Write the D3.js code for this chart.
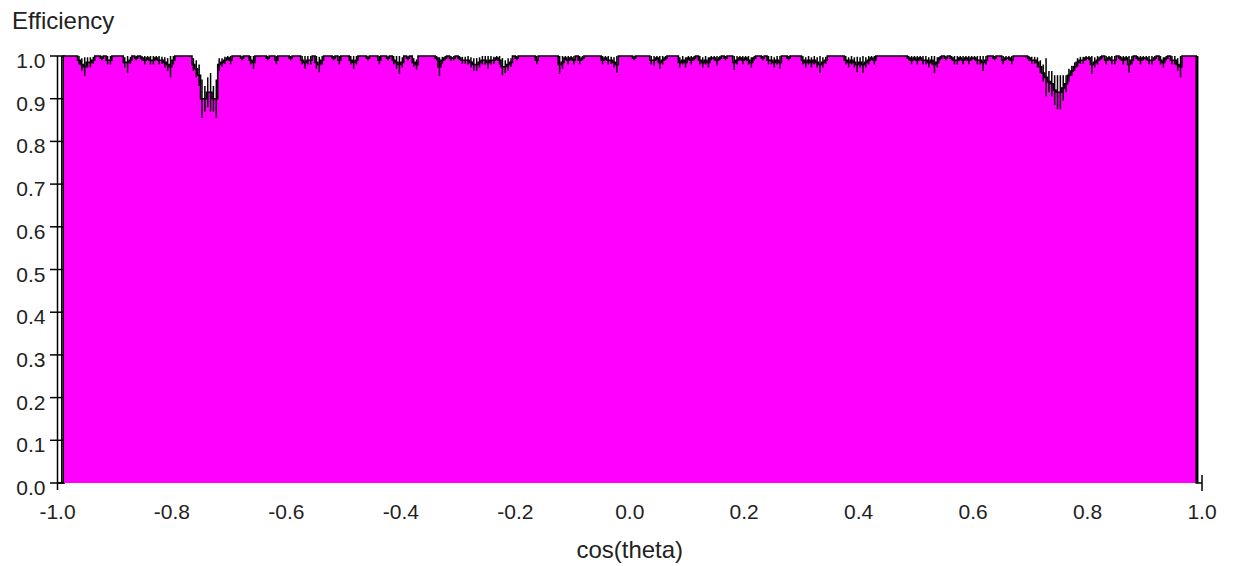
<!DOCTYPE html>
<html>
<head>
  <meta charset="utf-8">
  <title>Efficiency vs cos(theta)</title>
  <script src="https://d3js.org/d3.v7.min.js"></script>
  <style>
    body { margin: 0; background: #fff; }
    text { font-family: "Liberation Sans", Arial, Helvetica, sans-serif; fill: #222; }
  </style>
</head>
<body>
<script type="text/javascript">

// ****** DATA ******

  // efficiency per bin, 400 bins from -1 to 1 (20 bins per line = 0.1 in cos(theta))
  var effValues = [
    0,0,1,1,1,1,1,0.99,0.98,0.975,0.985,0.985,0.99,1,1,0.995,1,0.99,0.99,1,
    1,1,1,0.985,0.985,0.99,1,0.995,1,0.995,0.99,0.995,0.99,0.99,0.995,0.99,0.99,0.985,0.98,0.975,
    0.99,1,1,1,1,1,1,0.98,0.97,0.955,0.90,0.90,0.915,0.915,0.90,0.90,0.98,0.985,0.99,0.995,
    0.99,1,1,1,0.995,1,1,0.99,0.985,1,1,1,1,0.995,1,1,0.99,1,1,1,
    1,0.995,1,1,1,0.99,0.985,0.99,0.99,1,0.985,0.98,0.99,1,1,1,0.995,1,0.99,1,
    1,1,0.99,0.985,0.99,1,1,1,0.995,1,1,1,0.99,1,1,0.995,1,0.99,0.985,0.98,
    0.985,1,0.995,1,0.985,0.98,1,1,1,1,1,1,0.995,0.975,0.99,0.995,1,0.995,0.995,1,
    0.995,0.99,0.99,0.99,0.985,0.98,0.98,0.985,0.99,0.99,0.985,0.99,0.99,0.995,0.99,0.975,0.975,0.98,0.985,1,
    0.995,1,1,1,1,1,1,0.99,1,1,1,1,1,1,1,0.98,0.985,0.995,0.99,0.995,
    0.99,1,0.99,0.995,1,1,1,1,1,1,0.99,0.995,0.99,0.99,0.985,0.98,1,1,1,1,
    1,0.995,1,1,1,1,1,0.99,0.99,0.995,0.985,0.99,0.995,1,1,1,1,0.985,0.99,0.985,
    0.995,0.99,0.995,1,0.99,0.985,0.99,0.985,0.995,0.995,0.99,0.995,1,0.995,1,1,0.985,0.99,0.995,0.99,
    0.995,0.99,0.985,0.995,1,1,0.995,1,0.99,0.99,0.985,0.99,0.985,1,1,0.995,1,1,1,1,
    0.99,0.985,0.99,0.985,0.99,0.985,0.98,0.985,0.99,1,1,1,1,1,1,0.99,0.985,0.99,0.985,0.98,
    0.985,0.98,0.985,0.99,0.995,0.99,1,1,1,1,1,1,1,1,1,1,1,0.995,0.99,0.995,
    0.99,0.995,0.99,0.99,0.985,0.99,0.98,0.985,0.995,1,0.995,1,0.995,0.99,0.99,0.995,0.99,0.995,0.99,0.995,
    0.995,0.99,0.99,0.985,0.99,1,1,0.995,1,1,0.99,0.995,0.995,0.99,1,1,1,1,1,0.995,
    0.99,0.99,0.985,0.975,0.96,0.95,0.94,0.935,0.92,0.915,0.915,0.925,0.935,0.955,0.965,0.975,0.985,0.99,0.99,0.995,
    0.995,0.98,0.985,0.99,0.995,1,0.99,0.995,0.99,0.99,1,0.995,0.99,0.995,0.98,0.99,1,0.995,0.99,0.995,
    0.995,0.99,0.99,0.995,1,0.99,0.985,0.995,1,0.99,0.99,0.98,0.975,1,1,1,1,1,0,0
  ];

  // error on each bin
  var effErrors = [
    0,1,0,0,0,0,0,0.01,0.015,0.022,0.012,0.012,0.008,0,0,0.005,0,0.01,0.01,0,
    0,0,0,0.012,0.025,0.008,0,0.005,0,0.005,0.01,0.005,0.01,0.01,0.005,0.01,0.008,0.012,0.015,0.025,
    0.01,0,0,0,0,0,0,0.015,0.02,0.025,0.045,0.03,0.035,0.045,0.03,0.045,0.015,0.01,0.008,0.005,
    0.01,0,0,0,0.005,0,0,0.01,0.015,0,0,0,0,0.005,0,0,0.01,0,0,0,
    0,0.005,0,0,0,0.01,0.015,0.01,0.01,0,0.015,0.018,0.01,0,0,0,0.005,0,0.01,0,
    0,0,0.01,0.015,0.01,0,0,0,0.005,0,0,0,0.01,0,0,0.005,0,0.01,0.015,0.022,
    0.012,0,0.005,0,0.01,0.012,0,0,0,0,0,0,0.005,0.022,0.008,0.005,0,0.006,0.005,0,
    0.005,0.008,0.008,0.01,0.012,0.015,0.015,0.012,0.01,0.01,0.015,0.01,0.008,0.005,0.01,0.02,0.015,0.015,0.01,0,
    0.005,0,0,0,0,0,0,0.01,0,0,0,0,0,0,0,0.022,0.015,0.005,0.01,0.005,
    0.01,0,0.01,0.005,0,0,0,0,0,0,0.01,0.005,0.01,0.008,0.012,0.02,0,0,0,0,
    0,0.005,0,0,0,0,0,0.01,0.012,0.005,0.015,0.01,0.005,0,0,0,0,0.012,0.01,0.012,
    0.005,0.01,0.005,0,0.01,0.012,0.01,0.012,0.005,0.005,0.012,0.005,0,0.005,0,0,0.018,0.01,0.005,0.01,
    0.005,0.01,0.012,0.005,0,0,0.005,0,0.01,0.01,0.012,0.01,0.015,0,0,0.005,0,0,0,0,
    0.01,0.012,0.01,0.012,0.01,0.012,0.02,0.012,0.008,0,0,0,0,0,0,0.01,0.012,0.01,0.012,0.018,
    0.012,0.02,0.012,0.01,0.005,0.01,0,0,0,0,0,0,0,0,0,0,0,0.005,0.01,0.005,
    0.01,0.005,0.01,0.01,0.012,0.01,0.02,0.012,0.005,0,0.005,0,0.005,0.01,0.01,0.005,0.01,0.005,0.01,0.005,
    0.005,0.01,0.01,0.02,0.01,0,0,0.005,0,0,0.01,0.005,0.005,0.01,0,0,0,0,0,0.006,
    0.008,0.008,0.012,0.015,0.02,0.045,0.025,0.03,0.035,0.04,0.04,0.03,0.02,0.015,0.012,0.01,0.01,0.008,0.008,0.005,
    0.005,0.022,0.012,0.01,0.005,0,0.01,0.005,0.01,0.01,0,0.005,0.01,0.005,0.02,0.01,0,0.005,0.01,0.005,
    0.005,0.01,0.01,0.005,0,0.01,0.012,0.005,0,0.01,0.01,0.015,0.025,0,0,0,0,0,1,0
  ];

  var xTicks = [-1.0, -0.8, -0.6, -0.4, -0.2, 0.0, 0.2, 0.4, 0.6, 0.8, 1.0];
  var yTicks = [0.0, 0.1, 0.2, 0.3, 0.4, 0.5, 0.6, 0.7, 0.8, 0.9, 1.0];
  var xTitle = "cos(theta)",
      yTitle = "Efficiency";

// ****** SETUP ******

  var width = 1239,
      height = 566;
  var plotLeft = 57.5, plotRight = 1202, plotTop = 56, plotBottom = 483;
  var nBins = effValues.length,
      xMin = -1, xMax = 1;

  var x = d3.scaleLinear().domain([xMin, xMax]).range([plotLeft, plotRight]);
  var y = d3.scaleLinear().domain([0, 1]).range([plotBottom, plotTop]);

  // plain hyphen for negative labels, like the original
  var fmt = function (d) { return d3.format(".1f")(d).replace("\u2212", "-"); };

  var svg = d3.select("body")
    .append("svg")
    .attr("width", width)
    .attr("height", height);

  function binLow(i) { return xMin + i * (xMax - xMin) / nBins; }
  function binHigh(i) { return xMin + (i + 1) * (xMax - xMin) / nBins; }

// ****** AXES (ticks first, histogram covers the inner halves) ******

  svg.append("g")
    .selectAll("line")
    .data(yTicks)
    .enter()
    .append("line")
    .attr("x1", plotLeft - 7.5)
    .attr("x2", plotLeft + 7.5)
    .attr("y1", function (d) { return y(d); })
    .attr("y2", function (d) { return y(d); })
    .attr("stroke", "#000")
    .attr("stroke-width", 1.5);

  // only the tick at the right end shows in the original
  svg.append("line")
    .attr("x1", x(xMax)).attr("x2", x(xMax))
    .attr("y1", plotBottom - 8).attr("y2", plotBottom + 8)
    .attr("stroke", "#000")
    .attr("stroke-width", 1.5);

// ****** HISTOGRAM ******

  var pts = [[xMin, 0]];
  effValues.forEach(function (v, i) {
    pts.push([binLow(i), v]);
    pts.push([binHigh(i), v]);
  });
  pts.push([xMax, 0]);

  var histLine = d3.line()
    .x(function (d) { return x(d[0]); })
    .y(function (d) { return y(d[1]); });

  svg.append("path")
    .attr("d", histLine(pts) + "Z")
    .attr("fill", "#ff00ff")
    .attr("stroke", "none");

  svg.append("path")
    .attr("d", histLine(pts))
    .attr("fill", "none")
    .attr("stroke", "#000")
    .attr("stroke-width", 1.6);

  // error bars at bin centres
  var bars = effValues.map(function (v, i) {
    return { c: (binLow(i) + binHigh(i)) / 2, v: v, e: effErrors[i] };
  }).filter(function (d) { return d.e > 0; });

  svg.append("g")
    .selectAll("line")
    .data(bars)
    .enter()
    .append("line")
    .attr("x1", function (d) { return x(d.c); })
    .attr("x2", function (d) { return x(d.c); })
    .attr("y1", function (d) { return y(Math.max(0, d.v - d.e)); })
    .attr("y2", function (d) { return y(Math.min(1, d.v + d.e)); })
    .attr("stroke", "#000")
    .attr("stroke-width", 1.5);

  // y axis line
  svg.append("line")
    .attr("x1", plotLeft).attr("x2", plotLeft)
    .attr("y1", plotTop).attr("y2", plotBottom + 7)
    .attr("stroke", "#000")
    .attr("stroke-width", 1.5);

// ****** LABELS ******

  svg.append("g")
    .selectAll("text")
    .data(yTicks)
    .enter()
    .append("text")
    .attr("x", plotLeft - 12)
    .attr("y", function (d) { return y(d) + 12; })
    .attr("text-anchor", "end")
    .style("font-size", "21px")
    .text(fmt);

  svg.append("g")
    .selectAll("text")
    .data(xTicks)
    .enter()
    .append("text")
    .attr("x", function (d) { return x(d); })
    .attr("y", plotBottom + 36)
    .attr("text-anchor", "middle")
    .style("font-size", "21px")
    .text(fmt);

  svg.append("text")
    .attr("x", (plotLeft + plotRight) / 2)
    .attr("y", 558)
    .attr("text-anchor", "middle")
    .style("font-size", "24px")
    .text(xTitle);

  svg.append("text")
    .attr("x", 12)
    .attr("y", 29)
    .style("font-size", "24px")
    .text(yTitle);

</script>
</body>
</html>
